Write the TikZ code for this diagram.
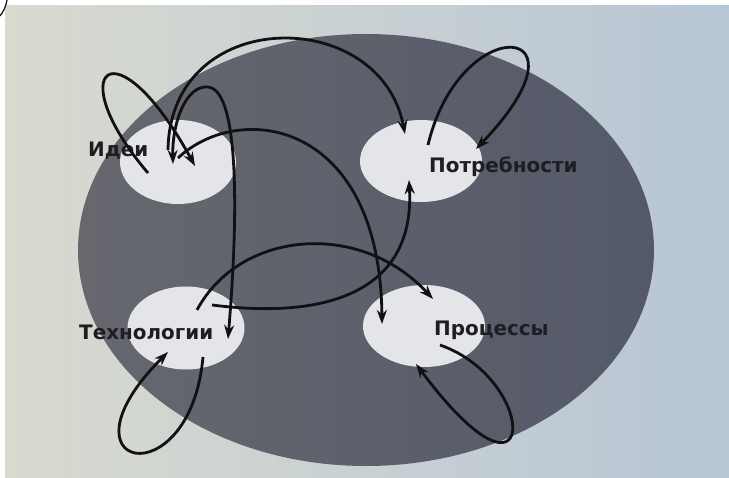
\documentclass[tikz,border=0pt]{standalone}
\usepackage{fontspec}
\setmainfont{DejaVu Sans}
\usetikzlibrary{shapes.geometric,arrows.meta,calc}
\definecolor{bgleft}{HTML}{D9DAD0}
\definecolor{bgright}{HTML}{B7C6D5}
\definecolor{bigleft}{HTML}{67686E}
\definecolor{bigright}{HTML}{545969}
\definecolor{cell}{HTML}{E3E5E8}
\definecolor{ink}{HTML}{111113}
\definecolor{lab}{HTML}{1E1E22}
\begin{document}
\begin{tikzpicture}[x=1bp,y=-1bp,
  cellnode/.style={ellipse, fill=cell, draw=none, inner sep=0pt},
  labnode/.style={anchor=west, inner sep=0pt, text=lab, font=\fontsize{20}{22}\selectfont\bfseries},
  conn/.style={line width=2.8bp, draw=ink, -{Stealth[length=14bp,width=10bp]}},
  conntwo/.style={line width=2.8bp, draw=ink, {Stealth[length=14bp,width=10bp]}-{Stealth[length=14bp,width=10bp]}}]
\useasboundingbox (0,0) rectangle (729,478);
\fill[white] (0,0) rectangle (729,478);
\shade[left color=bgleft, right color=bgright] (5,6) rectangle (729,478);
\draw[line width=1.2bp, draw=ink] (7,0) .. controls (6,7) and (3,12) .. (0,16);
% big ellipse
\shade[left color=bigleft, right color=bigright] (366,250) ellipse [x radius=288, y radius=216];
% cells
\node[cellnode, minimum width=116bp, minimum height=84bp] (idei) at (178,162) {};
\node[cellnode, minimum width=122bp, minimum height=82bp] (potr) at (421,161) {};
\node[cellnode, minimum width=117bp, minimum height=83bp] (tech) at (186,328) {};
\node[cellnode, minimum width=122bp, minimum height=82bp] (proc) at (424,326) {};
% labels
\node[labnode] (idei-l) at (88,151) {Идеи};
\node[labnode] (potr-l) at (429,167) {Потребности};
\node[labnode] (tech-l) at (79,332) {Технологии};
\node[labnode] (proc-l) at (434,330) {Процессы};
% connector ends
\coordinate (i1) at (148,173);
\coordinate (i2) at (195,166);
\coordinate (i3) at (168,150);
\coordinate (i4) at (173,164);
\coordinate (i5) at (178,158);
\coordinate (p1) at (405,134);
\coordinate (p2) at (428,145);
\coordinate (p3) at (476,149);
\coordinate (p4) at (409,180);
\coordinate (t1) at (228,339);
\coordinate (t2) at (212,305);
\coordinate (t3) at (197,310);
\coordinate (t4) at (203,357);
\coordinate (t5) at (168,352);
\coordinate (r1) at (382,324);
\coordinate (r2) at (433,299);
\coordinate (r3) at (440,345);
\coordinate (r4) at (416,364);
% connectors
\draw[conn] (i1) .. controls (60,70) and (115,20) .. (i2);
\draw[conn] (i3) .. controls (170,5) and (380,5) .. (p1);
\draw[conntwo] (t1) .. controls (238,220) and (240,90) .. (208,87) .. controls (185,85) and (172,125) .. (i4);
\draw[conn] (i5) .. controls (240,100) and (380,120) .. (r1);
\draw[conn] (p2) .. controls (460,10) and (600,20) .. (p3);
\draw[conn] (t2) .. controls (330,320) and (415,290) .. (p4);
\draw[conn] (t3) .. controls (240,230) and (360,220) .. (r2);
\draw[conn] (t4) .. controls (190,500) and (50,470) .. (t5);
\draw[conn] (r3) .. controls (540,380) and (540,530) .. (r4);
\end{tikzpicture}
\end{document}
